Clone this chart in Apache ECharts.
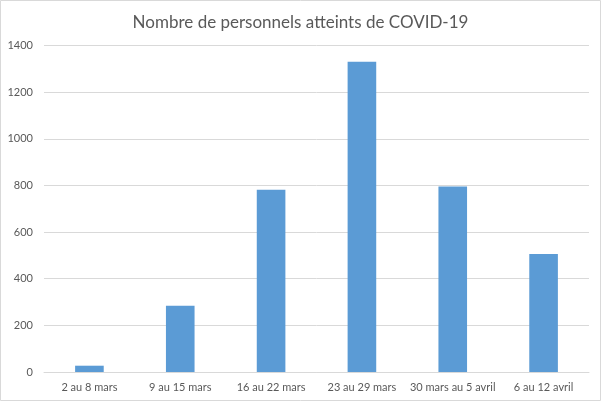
<!DOCTYPE html>
<html>
<head>
<meta charset="utf-8">
<script src="https://cdn.jsdelivr.net/npm/echarts@6/dist/echarts.min.js"></script>
<style>
html,body{margin:0;padding:0;background:#fff;}
#c{width:601px;height:401px;}
</style>
</head>
<body>
<div id="c"></div>
<script>
const titleText = "Nombre de personnels atteints de COVID-19";
const categories = ["2 au 8 mars", "9 au 15 mars", "16 au 22 mars", "23 au 29 mars", "30 mars au 5 avril", "6 au 12 avril"];
const values = [27, 284, 781, 1330, 795, 506];
const yTicks = { min: 0, max: 1400, interval: 200 };

const chart = echarts.init(document.getElementById('c'), null, { renderer: 'canvas' });
const font = 'Lato';
chart.setOption({
  animation: false,
  backgroundColor: '#ffffff',
  title: {
    text: titleText,
    left: 'center',
    top: 9,
    textStyle: { fontFamily: font, fontSize: 17, fontWeight: 'normal', color: '#595959' }
  },
  graphic: [{
    type: 'rect',
    shape: { x: 0.5, y: 0.5, width: 600, height: 400 },
    style: { fill: 'none', stroke: '#d9d9d9', lineWidth: 1 },
    silent: true
  }],
  grid: { left: 44, right: 12, top: 45.5, bottom: 29 },
  xAxis: {
    type: 'category',
    data: categories,
    axisLine: { show: true, lineStyle: { color: '#d9d9d9' } },
    axisTick: { show: false },
    axisLabel: { fontFamily: font, fontSize: 11, color: '#595959', margin: 10, interval: 0 }
  },
  yAxis: {
    type: 'value',
    min: yTicks.min, max: yTicks.max, interval: yTicks.interval,
    axisLine: { show: false },
    axisTick: { show: false },
    splitLine: { lineStyle: { color: '#d9d9d9', width: 1 } },
    axisLabel: { fontFamily: font, fontSize: 11, color: '#595959', margin: 11, formatter: v => String(v) }
  },
  series: [{
    type: 'bar',
    data: values,
    barWidth: '31.5%',
    itemStyle: { color: '#5B9BD5' }
  }]
});
</script>
</body>
</html>
